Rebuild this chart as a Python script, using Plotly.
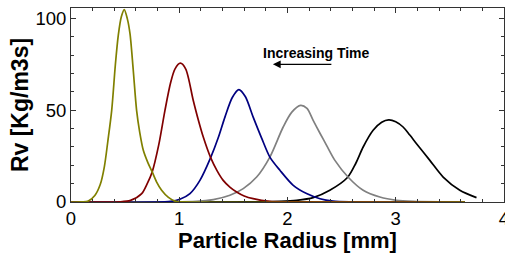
import plotly.graph_objects as go

# ---- data ----
olive_x = [0.0, 0.10, 0.16, 0.22, 0.27, 0.308, 0.34, 0.376, 0.41, 0.437, 0.465, 0.492,
           0.52, 0.545, 0.575, 0.606, 0.635, 0.668, 0.71, 0.75, 0.79, 0.837, 0.90, 0.96, 1.05, 3.64]
olive_y = [0.0, 0.05, 0.5, 3.5, 9.5, 19.2, 33, 50, 75, 91, 101, 104.9,
           100, 91.8, 72, 50, 38, 28.2, 21.5, 16.4, 11, 6.4, 2.5, 0.5, 0.1, 0.0]

red_x = [0.0, 0.45, 0.55, 0.653, 0.70, 0.75, 0.81, 0.868, 0.92, 0.96, 1.01,
         1.06, 1.129, 1.175, 1.222, 1.29, 1.35, 1.406, 1.47, 1.53, 1.60, 1.683, 1.837, 2.0, 3.64]
red_y = [0.0, 0.1, 0.9, 4.6, 9.5, 16.4, 31, 50, 65, 72.5, 75.7,
         72.5, 55.5, 45, 35.4, 24.2, 17, 11.8, 8, 5.5, 3.3, 1.8, 0.3, 0.05, 0.0]

navy_x = [0.0, 0.92, 1.006, 1.099, 1.191, 1.29, 1.36, 1.422, 1.49, 1.551,
          1.61, 1.683, 1.76, 1.837, 1.93, 2.053, 2.176, 2.30, 2.42, 2.60, 3.64]
navy_y = [0.0, 0.3, 1.5, 4.6, 11.8, 24.2, 35, 46.3, 57, 61.3,
          57.5, 46.3, 35, 24.5, 17.3, 9.1, 4.6, 1.8, 0.5, 0.1, 0.0]

gray_x = [0.0, 1.16, 1.314, 1.468, 1.591, 1.715, 1.837, 1.96, 2.04, 2.121,
          2.18, 2.237, 2.30, 2.361, 2.438, 2.561, 2.699, 2.853, 3.007, 3.16, 3.40, 3.64]
gray_y = [0.0, 0.3, 1.3, 3.7, 7.3, 13.6, 24.5, 40.9, 49, 52.7,
          51, 44.5, 37.5, 30.9, 22.7, 13.5, 6.4, 2.7, 0.9, 0.3, 0.05, 0.0]

black_x = [0.0, 1.80, 1.93, 2.084, 2.237, 2.391, 2.556, 2.63, 2.699, 2.791, 2.87, 2.935,
           3.0, 3.068, 3.13, 3.192, 3.315, 3.438, 3.592, 3.746]
black_y = [0.0, 0.1, 0.3, 0.9, 2.4, 6.4, 13.5, 21, 30, 39.1, 43.5, 44.8,
           43.8, 40.9, 36.5, 31.8, 22.7, 13.6, 6.4, 2.4]

series = [
    (black_x, black_y, "#000000"),
    (gray_x, gray_y, "#808080"),
    (navy_x, navy_y, "#000080"),
    (red_x, red_y, "#800000"),
    (olive_x, olive_y, "#808000"),
]

x_ticks = [0, 1, 2, 3, 4]
y_ticks = [0, 50, 100]

FONT = "Arial, Liberation Sans, Helvetica, sans-serif"

fig = go.Figure()
for xs, ys, col in series:
    fig.add_trace(go.Scatter(x=xs, y=ys, mode="lines",
                             line=dict(color=col, width=1.7, shape="spline", smoothing=0.8),
                             showlegend=False, hoverinfo="skip"))

axis_common = dict(showgrid=False, zeroline=False, showline=True, linecolor="#333333",
                   linewidth=1, mirror="ticks", ticks="inside", tickcolor="#333333",
                   ticklen=5, tickwidth=1, automargin=False, ticklabeloverflow="allow",
                   tickfont=dict(family=FONT, size=18.5, color="#000000"))

fig.update_layout(
    width=505, height=253,
    margin=dict(l=71, r=1, t=8, b=51),
    paper_bgcolor="white", plot_bgcolor="white",
    xaxis=dict(range=[0, 4], tickvals=x_ticks, ticktext=[str(v) for v in x_ticks],
               minor=dict(dtick=0.2, ticks="inside", ticklen=3, tickcolor="#333333"),
               **axis_common),
    yaxis=dict(range=[0, 105.8], tickvals=y_ticks, ticktext=[str(v) for v in y_ticks],
               minor=dict(dtick=10, ticks="inside", ticklen=3, tickcolor="#333333"),
               title=dict(text="<b>Rv [Kg/m3s]</b>",
                          font=dict(family=FONT, size=23, color="#000000"), standoff=0),
               **axis_common),
    annotations=[
        dict(x=0.5, y=0, xref="paper", yref="paper", yanchor="middle", yshift=-38,
             text="<b>Particle Radius [mm]</b>", showarrow=False,
             font=dict(family=FONT, size=22, color="#000000")),
        dict(x=2.27, y=81.4, xref="x", yref="y", text="<b>Increasing Time</b>",
             showarrow=False, font=dict(family=FONT, size=14, color="#000000")),
        dict(x=1.865, y=75.1, xref="x", yref="y", ax=2.419, ay=75.1, axref="x", ayref="y",
             text="", showarrow=True, arrowhead=2, arrowsize=1.2, arrowwidth=1.3,
             arrowcolor="#000000"),
    ],
)

fig.write_html("out.html", config={"displayModeBar": False},
               post_script="document.body.style.margin='0';document.body.style.overflow='hidden';")
